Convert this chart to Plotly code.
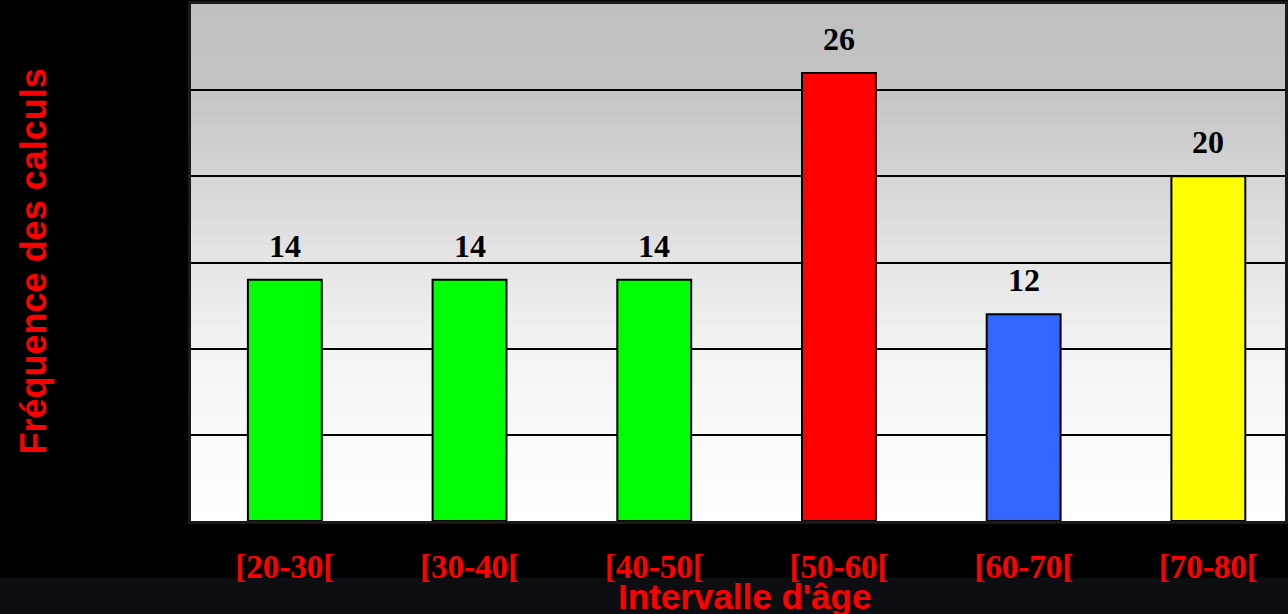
import plotly.graph_objects as go

categories = ["[20-30[", "[30-40[", "[40-50[", "[50-60[", "[60-70[", "[70-80["]
values = [14, 14, 14, 26, 12, 20]
bar_colors = ["#00ff00", "#00ff00", "#00ff00", "#ff0000", "#3366ff", "#ffff00"]
y_title = "Fréquence des calculs"
x_title = "Intervalle d'âge"

fig = go.Figure()
fig.add_trace(go.Bar(
    x=categories, y=values, width=0.4,
    marker=dict(color=bar_colors, line=dict(color="black", width=2)),
    hoverinfo="skip",
))

# value labels
for c, v in zip(categories, values):
    fig.add_annotation(x=c, y=v, text=f"<b>{v}</b>", showarrow=False,
                       yanchor="bottom", yshift=14,
                       font=dict(family="Liberation Serif", size=32, color="black"))

# gradient plot background (strips)
stops = [(0, (255, 255, 255)), (5, (250, 250, 250)), (10, (243, 243, 243)),
         (15, (229, 229, 229)), (20, (213, 213, 213)), (25, (196, 196, 196)),
         (30, (192, 192, 192))]
n = 60
shapes = []
for i in range(n):
    y0 = 30 * i / n
    y1 = 30 * (i + 1) / n
    ym = (y0 + y1) / 2
    for (a, ca), (b, cb) in zip(stops[:-1], stops[1:]):
        if a <= ym <= b:
            t = (ym - a) / (b - a)
            col = tuple(int(round(ca[k] + (cb[k] - ca[k]) * t)) for k in range(3))
            break
    shapes.append(dict(type="rect", xref="x domain", yref="y", x0=0, x1=1,
                       y0=y0, y1=min(30, y1 + 0.3), fillcolor="rgb(%d,%d,%d)" % col,
                       line=dict(width=0), layer="below"))
# dark band at bottom
shapes.append(dict(type="rect", xref="paper", yref="paper", x0=-0.2, x1=1.05,
                   y0=-93 / 517, y1=-57 / 517, fillcolor="#0d0e12",
                   line=dict(width=0), layer="below"))
fig.update_layout(shapes=shapes)

fig.add_annotation(xref="paper", yref="paper", x=(33 - 191) / 1097, y=(521 - 261) / 517,
                   xanchor="center", yanchor="middle",
                   text=f"<b>{y_title}</b>", textangle=-90, showarrow=False,
                   font=dict(family="Liberation Sans", size=36, color="#ff0000"))
fig.add_annotation(xref="paper", yref="paper", x=(746 - 191) / 1097, y=-(596 - 521) / 517,
                   xanchor="center", yanchor="middle",
                   text=f"<b>{x_title}</b>", showarrow=False,
                   font=dict(family="Liberation Sans", size=35, color="#ff0000"))

fig.update_layout(
    width=1288, height=614,
    margin=dict(l=191, r=0, t=4, b=93),
    paper_bgcolor="black", plot_bgcolor="white",
    showlegend=False,
    xaxis=dict(range=[-0.508, 5.415], showgrid=False, zeroline=False,
               showline=True, linecolor="#1a1a1a", linewidth=3, mirror=True,
               tickfont=dict(family="Liberation Serif", size=33, color="#ff0000", weight="bold"),
               ticks="", ticklabelstandoff=14),
    yaxis=dict(range=[0, 30], dtick=5, showgrid=True, gridcolor="black", gridwidth=2,
               showticklabels=False, zeroline=False,
               showline=True, linecolor="#1a1a1a", linewidth=3, mirror=True),
)

fig.write_html("out.html")
